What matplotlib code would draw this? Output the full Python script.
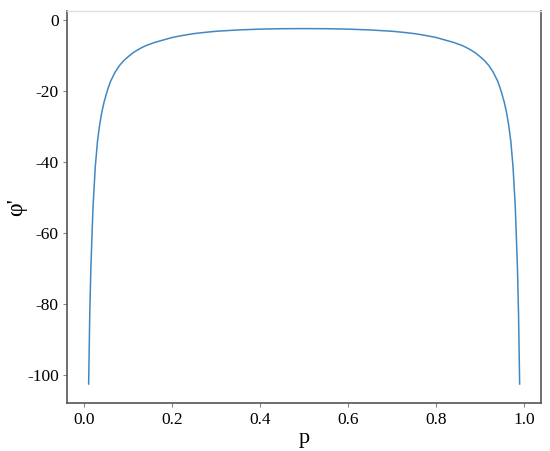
import matplotlib
matplotlib.use("Agg")
import matplotlib.pyplot as plt
import numpy as np

# values (left half; right half mirrors it)
p_left = [0.01, 0.0125, 0.015, 0.0175, 0.02, 0.025, 0.03, 0.035, 0.04, 0.045,
          0.05, 0.055, 0.06, 0.07, 0.08, 0.09, 0.10, 0.11, 0.12, 0.13,
          0.14, 0.16, 0.18, 0.20, 0.225, 0.25, 0.275, 0.30, 0.35, 0.40,
          0.45, 0.50]
phi_left = [-102.5, -83.0, -70.0, -61.0, -52.5, -41.5, -34.3, -29.6, -26.0, -23.2,
            -21.0, -19.0, -17.3, -14.8, -12.9, -11.5, -10.4, -9.4, -8.6, -7.9,
            -7.3, -6.4, -5.7, -5.0, -4.4, -3.9, -3.55, -3.25, -2.88, -2.65,
            -2.53, -2.5]

p_vals = p_left + [round(1 - v, 4) for v in reversed(p_left[:-1])]
phi_vals = phi_left + list(reversed(phi_left[:-1]))

x_ticks = [0.0, 0.2, 0.4, 0.6, 0.8, 1.0]
y_ticks = [0, -20, -40, -60, -80, -100]

plt.rcParams['font.family'] = ['Liberation Serif', 'DejaVu Serif']

fig = plt.figure(figsize=(5.5, 4.51), dpi=100)
ax = fig.add_axes([0.122, 0.106, 0.862, 0.870])
ax.plot(p_vals, phi_vals, color='#4188c2', linewidth=1.1)

ax.set_xlim(-0.039, 1.039)
ax.set_ylim(-107.9, 2.5)
ax.set_xticks(x_ticks)
ax.set_xticklabels([f"{t:.1f}" for t in x_ticks])
ax.set_yticks(y_ticks)
ax.set_yticklabels([str(t) for t in y_ticks])

for side in ['left', 'bottom', 'right']:
    ax.spines[side].set_color('#555555')
    ax.spines[side].set_linewidth(1.2)
ax.spines['top'].set_color('#dddddd')
ax.spines['top'].set_linewidth(1.0)

ax.tick_params(axis='both', direction='out', length=3, width=0.8, color='#888888',
               labelsize=12.5, pad=3)
ax.set_xlabel('p', fontsize=16)
ax.xaxis.set_label_coords(0.5, -0.065)
ax.set_ylabel("φ'", fontsize=17)
ax.yaxis.set_label_coords(-0.085, 0.5)

fig.savefig('out.png', dpi=100)
